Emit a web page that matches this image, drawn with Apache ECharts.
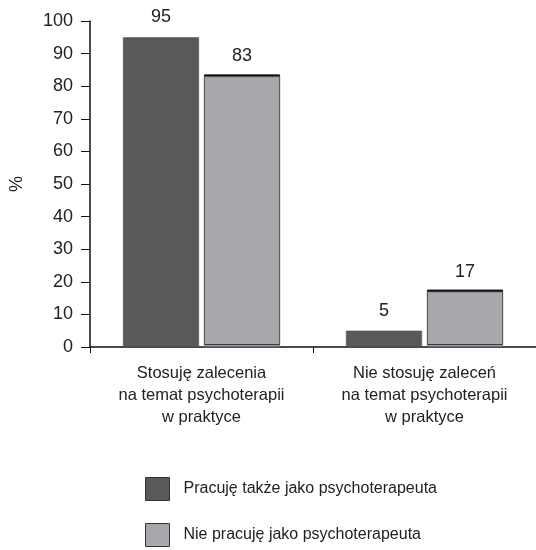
<!DOCTYPE html>
<html><head><meta charset="utf-8">
<script src="https://cdn.jsdelivr.net/npm/echarts@6/dist/echarts.min.js"></script>
<style>html,body{margin:0;padding:0;background:#fff}#c{width:536px;height:550px}</style>
</head><body><div id="c"></div>
<script>
const categories = ['Stosuję zalecenia\nna temat psychoterapii\nw praktyce', 'Nie stosuję zaleceń\nna temat psychoterapii\nw praktyce'];
const seriesNames = ['Pracuję także jako psychoterapeuta', 'Nie pracuję jako psychoterapeuta'];
const valuesTherapist = [95, 5];
const valuesNonTherapist = [83, 17];
const yTicks = [0, 10, 20, 30, 40, 50, 60, 70, 80, 90, 100];

const FONT = '"Liberation Sans", Arial, sans-serif';
const chart = echarts.init(document.getElementById('c'), null, {renderer: 'canvas'});
chart.setOption({
  animation: false,
  textStyle: {fontFamily: FONT},
  grid: {left: 83, width: 460, top: 21, bottom: 203, containLabel: false},
  legend: {
    orient: 'vertical', left: 145, top: 477, padding: 0, itemWidth: 24, itemHeight: 23, itemGap: 22,
    icon: 'rect',
    itemStyle: {borderColor: '#333', borderWidth: 1},
    textStyle: {fontFamily: FONT, fontSize: 16, color: '#222', padding: [0, 0, 0, 9]},
    data: seriesNames
  },
  xAxis: {
    type: 'category', data: categories,
    axisLine: {lineStyle: {color: '#111', width: 1.5}},
    axisTick: {show: true, length: 6, lineStyle: {color: '#111'}},
    axisLabel: {interval: 0, fontFamily: FONT, fontSize: 16.5, color: '#222', lineHeight: 22, margin: 15}
  },
  yAxis: {
    type: 'value', min: yTicks[0], max: yTicks[yTicks.length - 1], interval: 10,
    name: '%', nameLocation: 'middle', nameGap: 64, nameRotate: 90,
    nameTextStyle: {fontFamily: FONT, fontSize: 18, color: '#222'},
    axisLine: {show: true, lineStyle: {color: '#111', width: 1.5}},
    axisTick: {show: true, inside: false, length: 9, lineStyle: {color: '#111'}},
    axisLabel: {fontFamily: FONT, fontSize: 18, color: '#222', margin: 17},
    splitLine: {show: false}
  },
  series: [
    {
      name: seriesNames[0], type: 'bar', data: valuesTherapist, barWidth: 76, barGap: '6.6%',
      itemStyle: {color: '#58595b', borderColor: '#4a4a4c', borderWidth: 0.5},
      label: {show: true, position: 'top', distance: 11, fontFamily: FONT, fontSize: 18, color: '#222'}
    },
    {
      name: seriesNames[1], type: 'bar', data: valuesNonTherapist, barWidth: 76,
      itemStyle: {color: '#a7a8ab', borderColor: '#6a6a6a', borderWidth: 0.8,
        shadowColor: '#111', shadowBlur: 0, shadowOffsetY: -2},
      label: {show: true, position: 'top', distance: 11, fontFamily: FONT, fontSize: 18, color: '#222'}
    }
  ]
});
</script></body></html>
